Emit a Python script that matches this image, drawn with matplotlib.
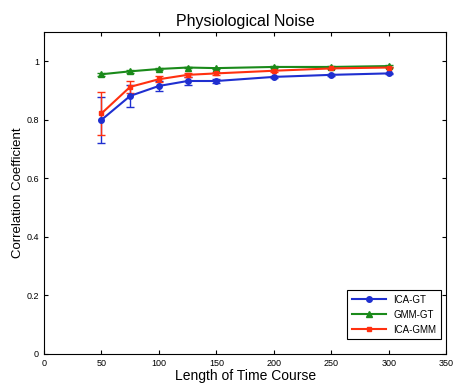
import matplotlib
matplotlib.use('Agg')
import matplotlib.pyplot as plt

plt.rcParams['font.family'] = ['Liberation Sans', 'DejaVu Sans']

# Data
lengths = [50, 75, 100, 125, 150, 200, 250, 300]
ica_gt = [0.799, 0.881, 0.915, 0.932, 0.932, 0.946, 0.953, 0.958]
ica_gt_err = [0.078, 0.038, 0.016, 0.012, 0.006, 0.004, 0.003, 0.003]
gmm_gt = [0.955, 0.965, 0.973, 0.978, 0.976, 0.980, 0.980, 0.983]
gmm_gt_err = [0.006, 0.004, 0.003, 0.002, 0.002, 0.002, 0.002, 0.002]
ica_gmm = [0.821, 0.912, 0.938, 0.953, 0.958, 0.967, 0.975, 0.978]
ica_gmm_err = [0.073, 0.02, 0.01, 0.007, 0.004, 0.003, 0.002, 0.002]

fig = plt.figure(figsize=(4.53, 3.88), dpi=100)
ax = fig.add_axes([0.097, 0.088, 0.888, 0.83])

e1 = ax.errorbar(lengths, ica_gt, yerr=ica_gt_err, color='#1f2fd0', marker='o', ms=4,
                 lw=1.5, capsize=3, elinewidth=1, label='ICA-GT')
e2 = ax.errorbar(lengths, gmm_gt, yerr=gmm_gt_err, color='#1a8a1a', marker='^', ms=4,
                 lw=1.5, capsize=3, elinewidth=1, label='GMM-GT')
e3 = ax.errorbar(lengths, ica_gmm, yerr=ica_gmm_err, color='#ff3010', marker='s', ms=3.5,
                 lw=1.5, capsize=3, elinewidth=1, label='ICA-GMM')

ax.set_xlim(0, 350)
ax.set_ylim(0, 1.1)
ax.set_xticks([0, 50, 100, 150, 200, 250, 300, 350])
ax.set_yticks([0, 0.2, 0.4, 0.6, 0.8, 1])
ax.set_yticklabels(['0', '0.2', '0.4', '0.6', '0.8', '1'])
ax.tick_params(direction='in', labelsize=6.5, top=True, right=True, length=3)

ax.set_title('Physiological Noise', fontsize=11.5, pad=4)
ax.set_xlabel('Length of Time Course', fontsize=10, labelpad=1)
ax.set_ylabel('Correlation Coefficient', fontsize=9.5, labelpad=2)

leg = ax.legend([e1.lines[0], e2.lines[0], e3.lines[0]], ['ICA-GT', 'GMM-GT', 'ICA-GMM'],
                loc='lower right', bbox_to_anchor=(0.988, 0.045), fontsize=7,
                fancybox=False, edgecolor='black', framealpha=1, handlelength=3.5,
                borderpad=0.5, labelspacing=0.5, borderaxespad=0)
leg.get_frame().set_linewidth(0.8)

fig.savefig('out.png', dpi=100)
